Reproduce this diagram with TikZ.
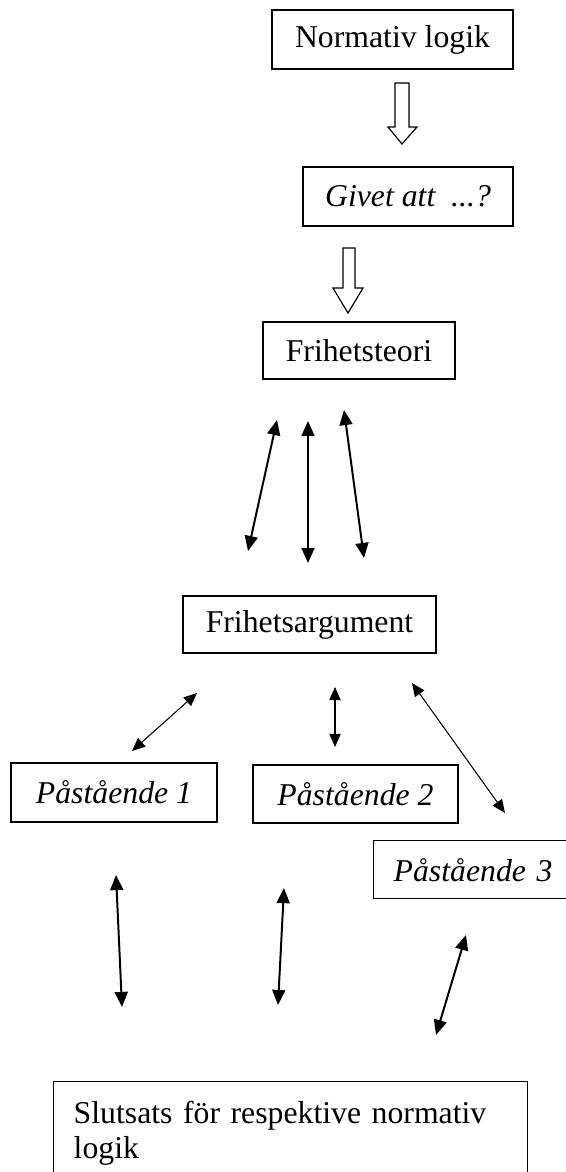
\documentclass[tikz,border=0pt]{standalone}
\usepackage{fontspec}
\setmainfont{Liberation Serif}
\usetikzlibrary{arrows.meta}
\begin{document}
\begin{tikzpicture}[x=0.378pt,y=-0.378pt,
  txt/.style={font=\fontsize{12}{13.2}\selectfont},
  box/.style={draw,line width=0.55pt,inner sep=0pt,txt},
  hollow/.style={draw,line width=0.45pt,fill=white,line join=miter},
  dblthick/.style={line width=0.75pt,{Triangle[length=5.7pt,width=4.9pt]}-{Triangle[length=5.7pt,width=4.9pt]}},
  dblthin/.style={line width=0.4pt,{Triangle[length=5pt,width=4.3pt]}-{Triangle[length=5pt,width=4.3pt]}}]
\useasboundingbox (0,0) rectangle (566,1172);

% boxes
\node[box,minimum width=91.1pt,minimum height=22.3pt] (nl) at (392.5,39.5) {Normativ logik};
\node[box,minimum width=79.4pt,minimum height=22.3pt] (ga) at (408,196.5) {\itshape Givet att \ ...?};
\node[box,minimum width=72.6pt,minimum height=21.5pt] (ft) at (359,350.5) {Frihetsteori};
\node[box,minimum width=95.6pt,minimum height=21.5pt] (fa) at (309.5,624.5) {Frihetsargument};
\node[box,minimum width=77.9pt,minimum height=22.3pt] (p1) at (114,792.5) {\itshape Påstående 1};
\node[box,minimum width=77.5pt,minimum height=21.9pt] (p2) at (355.5,794) {\itshape Påstående 2};
\node[box,anchor=north west,inner xsep=7.56pt,text width=70.7pt,align=left,
      minimum height=21.9pt] (p3) at (373,840) {\itshape Påstående 3};
\node[box,anchor=north west,inner xsep=7.56pt,inner ysep=7.4pt,text width=164pt,
      align=left] (sl) at (53,1081) {Slutsats för respektive normativ\\logik};

% hollow arrows
\draw[hollow] (395,83) -- (409,83) -- (409,127) -- (417,127) -- (402,144)
  -- (388,127) -- (395,127) -- cycle;
\draw[hollow] (343,248) -- (355,248) -- (355,288) -- (363,288) -- (348,313)
  -- (333,288) -- (343,288) -- cycle;

% double arrows below Frihetsteori
\coordinate (a1) at (277,420); \coordinate (a2) at (248,551);
\coordinate (b1) at (308,421); \coordinate (b2) at (308,563);
\coordinate (c1) at (344,410); \coordinate (c2) at (364,558);
\draw[dblthick] (a1) -- (a2);
\draw[dblthick] (b1) -- (b2);
\draw[dblthick] (c1) -- (c2);

% double arrows below Frihetsargument
\coordinate (d1) at (197,693); \coordinate (d2) at (132,751);
\coordinate (e1) at (335,687); \coordinate (e2) at (335,747);
\coordinate (f1) at (412,683); \coordinate (f2) at (505,813);
\draw[dblthin] (d1) -- (d2);
\draw[dblthin] (e1) -- (e2);
\draw[dblthin] (f1) -- (f2);

% double arrows above conclusion
\coordinate (g1) at (116,875); \coordinate (g2) at (122,1007);
\coordinate (h1) at (284,888); \coordinate (h2) at (278,1005);
\coordinate (i1) at (466,935); \coordinate (i2) at (436,1035);
\draw[dblthick] (g1) -- (g2);
\draw[dblthick] (h1) -- (h2);
\draw[dblthick] (i1) -- (i2);
\end{tikzpicture}
\end{document}
